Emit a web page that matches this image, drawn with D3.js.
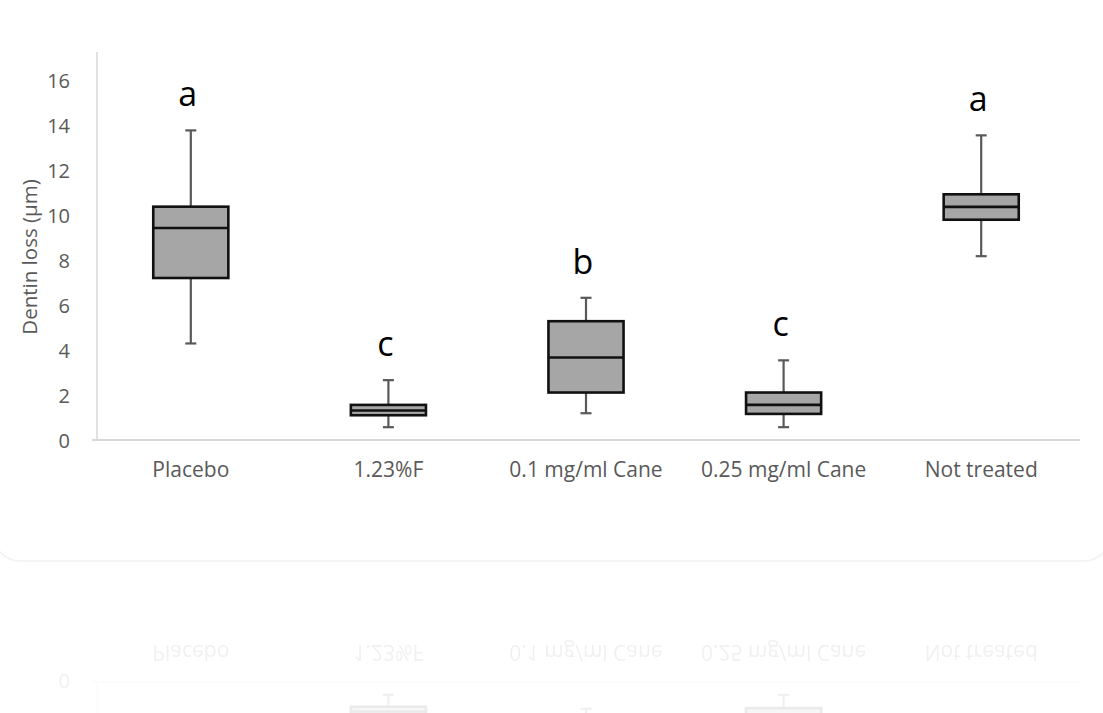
<!DOCTYPE html>
<html>
<head>
<meta charset="utf-8">
<script src="https://cdn.jsdelivr.net/npm/d3@7/dist/d3.min.js"></script>
<style>
  html, body { margin: 0; padding: 0; background: #ffffff; }
  svg { display: block; }
</style>
</head>
<body>
<svg id="fig" width="1103" height="713"></svg>
<script>
// Dentin loss per treatment group (µm): box-and-whisker summaries
const categories   = ["Placebo", "1.23%F", "0.1 mg/ml Cane", "0.25 mg/ml Cane", "Not treated"];
const whiskerLow   = [4.29, 0.57, 1.19, 0.57, 8.17];
const quartile1    = [7.20, 1.10, 2.11, 1.16, 9.79];
const medianValue  = [9.42, 1.31, 3.67, 1.56, 10.36];
const quartile3    = [10.37, 1.56, 5.28, 2.11, 10.92];
const whiskerHigh  = [13.76, 2.66, 6.32, 3.54, 13.54];
const groupLetters = ["a", "c", "b", "c", "a"];
const yTickValues  = [0, 2, 4, 6, 8, 10, 12, 14, 16];
const yTitle       = "Dentin loss (µm)";

const rows = categories.map((c, i) => ({
  cat: c, lo: whiskerLow[i], q1: quartile1[i], med: medianValue[i],
  q3: quartile3[i], hi: whiskerHigh[i], letter: groupLetters[i]
}));

const svg = d3.select("#fig");
const FONT = "'Open Sans', 'Noto Sans', sans-serif";

const x = d3.scaleBand().domain(categories).range([92, 1080]);
const y = d3.scaleLinear().domain([0, 16]).range([440, 80]);

// soft card outline behind the plot
svg.append("rect")
  .attr("x", -6).attr("y", -30).attr("width", 1116).attr("height", 591)
  .attr("rx", 26).attr("fill", "none")
  .attr("stroke", "#f2f2f2").attr("stroke-width", 1.5);

const plot = svg.append("g").attr("id", "plot");

// axis lines
plot.append("line")
  .attr("x1", 97).attr("x2", 97).attr("y1", y(16) - 28).attr("y2", y(0))
  .attr("stroke", "#d9d9d9").attr("stroke-width", 1.5);
plot.append("line")
  .attr("x1", x.range()[0]).attr("x2", x.range()[1]).attr("y1", y(0)).attr("y2", y(0))
  .attr("stroke", "#d9d9d9").attr("stroke-width", 2);

// y tick labels
const yAxis = d3.axisLeft(y).tickValues(yTickValues).tickSize(0).tickPadding(27);
const yg = plot.append("g").attr("transform", "translate(97,0)").call(yAxis);
yg.select(".domain").remove();
yg.selectAll("text")
  .attr("font-family", FONT).attr("font-size", 20)
  .attr("fill", "#595959").attr("dy", "0.36em");

// category labels
const xAxis = d3.axisBottom(x).tickSize(0).tickPadding(22);
const xg = plot.append("g").attr("transform", `translate(0,${y(0)})`).call(xAxis);
xg.select(".domain").remove();
xg.selectAll("text")
  .attr("font-family", FONT).attr("font-size", 21)
  .attr("fill", "#595959").attr("dy", "0.71em");

// y axis title
plot.append("text")
  .attr("transform", `translate(29,${(y(16) + y(0)) / 2 - 3}) rotate(-90)`)
  .attr("text-anchor", "middle").attr("dominant-baseline", "central")
  .attr("font-family", FONT).attr("font-size", 20.5).attr("fill", "#595959")
  .text(yTitle);

// boxes
const boxW = x.bandwidth() * 0.38;
const capW = 11;
const g = plot.selectAll("g.box").data(rows).join("g")
  .attr("class", "box")
  .attr("transform", d => `translate(${x(d.cat) + x.bandwidth() / 2},0)`);

g.append("line")
  .attr("x1", 0).attr("x2", 0).attr("y1", d => y(d.lo)).attr("y2", d => y(d.hi))
  .attr("stroke", "#595959").attr("stroke-width", 2.2);
g.append("line")
  .attr("x1", -capW / 2).attr("x2", capW / 2).attr("y1", d => y(d.hi)).attr("y2", d => y(d.hi))
  .attr("stroke", "#595959").attr("stroke-width", 2.2);
g.append("line")
  .attr("x1", -capW / 2).attr("x2", capW / 2).attr("y1", d => y(d.lo)).attr("y2", d => y(d.lo))
  .attr("stroke", "#595959").attr("stroke-width", 2.2);
g.append("rect")
  .attr("x", -boxW / 2).attr("width", boxW)
  .attr("y", d => y(d.q3)).attr("height", d => y(d.q1) - y(d.q3))
  .attr("fill", "#a6a6a6").attr("stroke", "#111111").attr("stroke-width", 2.6);
g.append("line")
  .attr("x1", -boxW / 2).attr("x2", boxW / 2).attr("y1", d => y(d.med)).attr("y2", d => y(d.med))
  .attr("stroke", "#111111").attr("stroke-width", 2.6);

// significance letters above each whisker
g.append("text")
  .attr("x", -3).attr("y", d => y(d.hi) - 24)
  .attr("text-anchor", "middle")
  .attr("font-family", FONT).attr("font-size", 34).attr("fill", "#000000")
  .text(d => d.letter);

// faint mirrored copy below the card
svg.append("use")
  .attr("href", "#plot")
  .attr("transform", "translate(0,1122) scale(1,-1)")
  .attr("opacity", 0.09);
</script>
</body>
</html>
